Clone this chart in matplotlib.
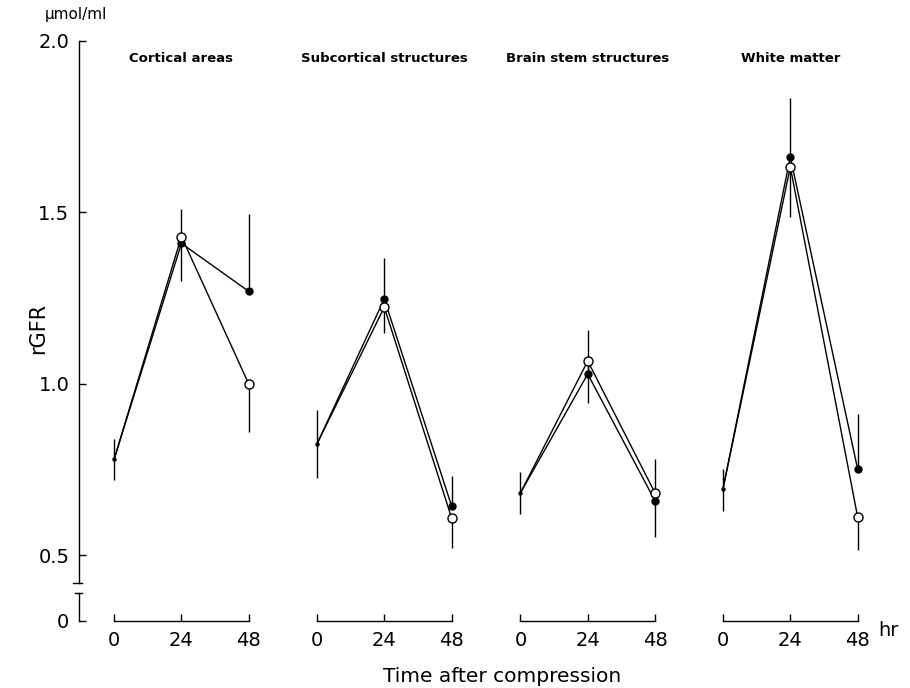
import matplotlib

matplotlib.use("Agg")
import matplotlib.pyplot as plt

# rGFR (umol/ml) after compression
REGIONS = ["Cortical areas", "Subcortical structures", "Brain stem structures", "White matter"]
TIMES = [0, 24, 48]

OPEN_MEAN = [
    [0.78, 1.43, 1.00],
    [0.825, 1.224, 0.609],
    [0.682, 1.067, 0.682],
    [0.694, 1.633, 0.612],
]
FILLED_MEAN = [
    [0.78, 1.41, 1.27],
    [0.825, 1.248, 0.644],
    [0.682, 1.029, 0.659],
    [0.694, 1.662, 0.752],
]
# one-sided error bars: open circles point down, filled circles point up
OPEN_ERR_DOWN = [
    [0.06, 0.13, 0.14],
    [0.10, 0.074, 0.087],
    [0.06, 0.122, 0.128],
    [0.064, 0.146, 0.096],
]
FILLED_ERR_UP = [
    [0.06, 0.10, 0.225],
    [0.10, 0.12, 0.088],
    [0.061, 0.128, 0.122],
    [0.058, 0.172, 0.16],
]

Y_TICKS = [0.5, 1.0, 1.5, 2.0]

# layout (x in hours, panels shifted along one shared axis)
PANEL_OFFSETS = [0, 72.3, 144.8, 217.0]
Y_ZERO = 0.309          # where the broken axis puts 0
BREAK_HI, BREAK_LO = 0.42, 0.39
X_LEFT, X_RIGHT = -12.5, 269.4


def main() -> None:
    plt.rcParams.update({"font.family": "DejaVu Sans", "font.size": 12})
    fig = plt.figure(figsize=(9.1, 6.88), dpi=100)
    ax = fig.add_axes([79 / 910, 67 / 688, (870 - 79) / 910, (621 - 41) / 688])

    ax.set_xlim(X_LEFT, X_RIGHT)
    ax.set_ylim(Y_ZERO, 2.0)

    for i, off in enumerate(PANEL_OFFSETS):
        xs = [off + t for t in TIMES]
        zeros = [0] * len(TIMES)
        ax.errorbar(xs, FILLED_MEAN[i], yerr=[zeros, FILLED_ERR_UP[i]], fmt="none",
                    ecolor="black", elinewidth=1.0, capsize=0, zorder=1)
        ax.errorbar(xs, OPEN_MEAN[i], yerr=[OPEN_ERR_DOWN[i], zeros], fmt="none",
                    ecolor="black", elinewidth=1.0, capsize=0, zorder=1)
        ax.plot(xs, FILLED_MEAN[i], color="black", linewidth=1.0, zorder=2)
        ax.plot(xs, OPEN_MEAN[i], color="black", linewidth=1.0, zorder=2)
        ax.plot(xs[1:], FILLED_MEAN[i][1:], linestyle="none", marker="o", markersize=5,
                markerfacecolor="black", markeredgecolor="black", zorder=3)
        ax.plot(xs[1:], OPEN_MEAN[i][1:], linestyle="none", marker="o", markersize=6.5,
                markerfacecolor="white", markeredgecolor="black", markeredgewidth=1.0, zorder=4)
        ax.plot(xs[:1], FILLED_MEAN[i][:1], linestyle="none", marker="o", markersize=2.2,
                color="black", zorder=4)

        # panel x axis segment
        ax.plot([xs[0], xs[-1]], [Y_ZERO, Y_ZERO], color="black", linewidth=1.0,
                clip_on=False, zorder=2)
        ax.text(off + 24, 1.95, REGIONS[i], ha="center", va="center",
                fontsize=9.5, fontweight="bold")

    # x ticks for every panel
    xticks = [off + t for off in PANEL_OFFSETS for t in TIMES]
    ax.set_xticks(xticks)
    ax.set_xticklabels([str(t) for _ in PANEL_OFFSETS for t in TIMES])
    ax.tick_params(axis="x", direction="in", length=5, width=1.0, pad=7, labelsize=14)

    # broken y axis
    ax.set_yticks(Y_TICKS + [Y_ZERO])
    ax.set_yticklabels([f"{v:.1f}" for v in Y_TICKS] + ["0"])
    ax.tick_params(axis="y", direction="in", length=5, width=1.0, pad=7, labelsize=14)
    for side in ("top", "right", "bottom"):
        ax.spines[side].set_visible(False)
    ax.spines["left"].set_bounds(BREAK_HI, 2.0)
    ax.spines["left"].set_linewidth(1.0)
    ax.plot([X_LEFT, X_LEFT], [Y_ZERO, BREAK_LO], color="black", linewidth=1.0, clip_on=False)
    ax.plot([X_LEFT - 2.2, X_LEFT + 1.0], [BREAK_HI, BREAK_HI], color="black",
            linewidth=1.0, clip_on=False)
    ax.plot([X_LEFT - 1.5, X_LEFT + 1.0], [BREAK_LO, BREAK_LO], color="black",
            linewidth=1.0, clip_on=False)

    fig.text(76 / 910, 1 - 15 / 688, "\u03bcmol/ml", ha="center", va="center", fontsize=11)
    fig.text(38 / 910, 1 - 328 / 688, "rGFR", ha="center", va="center", rotation=90,
             fontsize=15)
    fig.text(888 / 910, 1 - 630 / 688, "hr", ha="center", va="center", fontsize=14)
    fig.text(502 / 910, 1 - 677 / 688, "Time after compression", ha="center", va="center",
             fontsize=14.5)

    fig.savefig("out.png", dpi=100)
    plt.close(fig)


if __name__ == "__main__":
    main()
